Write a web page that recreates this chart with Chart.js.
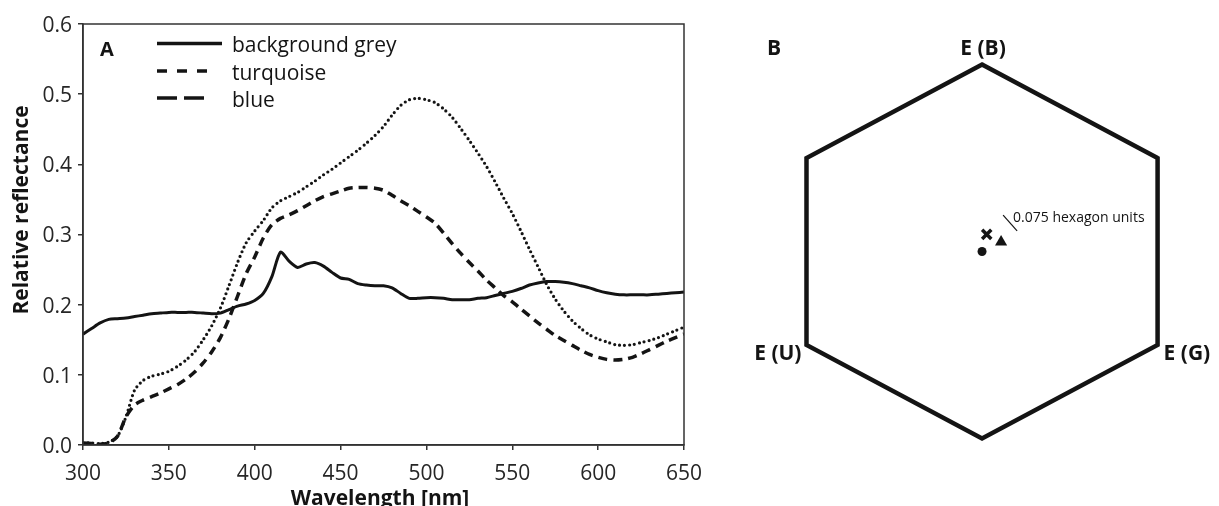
<!DOCTYPE html>
<html>
<head>
<meta charset="utf-8">
<script src="https://cdn.jsdelivr.net/npm/chart.js@4.4.1/dist/chart.umd.min.js"></script>
<style>
  body { margin: 0; background: #fff; }
  #wrap { position: relative; width: 1219px; height: 506px; overflow: hidden; }
  #spectra { position: absolute; left: 0; top: 0; width: 740px; height: 506px; }
  #hexagon { position: absolute; left: 740px; top: 0; width: 479px; height: 506px; }
</style>
</head>
<body>
<div id="wrap">
  <canvas id="spectra" width="740" height="506"></canvas>
  <canvas id="hexagon" width="479" height="506"></canvas>
</div>
<script>
// Panel A: reflectance spectra, one value every 5 nm
const wavelengths = [300, 305, 310, 315, 320, 325, 330, 335, 340, 345, 350, 355, 360, 365, 370, 375, 380, 385, 390, 395,
  400, 405, 410, 415, 420, 425, 430, 435, 440, 445, 450, 455, 460, 465, 470, 475, 480, 485, 490, 495,
  500, 505, 510, 515, 520, 525, 530, 535, 540, 545, 550, 555, 560, 565, 570, 575, 580, 585, 590, 595,
  600, 605, 610, 615, 620, 625, 630, 635, 640, 645, 650];
const greyValues = [0.158, 0.166, 0.174, 0.179, 0.180, 0.181, 0.183, 0.185, 0.187, 0.188, 0.189, 0.189, 0.189, 0.189, 0.188, 0.187, 0.188, 0.193, 0.198, 0.201,
  0.206, 0.216, 0.240, 0.275, 0.262, 0.253, 0.258, 0.260, 0.255, 0.246, 0.238, 0.236, 0.230, 0.228, 0.227, 0.227, 0.224, 0.216, 0.209, 0.209,
  0.210, 0.210, 0.209, 0.207, 0.207, 0.207, 0.209, 0.210, 0.213, 0.216, 0.219, 0.223, 0.228, 0.231, 0.233, 0.233, 0.232, 0.230, 0.227, 0.224,
  0.220, 0.217, 0.215, 0.214, 0.214, 0.214, 0.214, 0.215, 0.216, 0.217, 0.218];
const turquoiseValues = [0.003, 0.003, 0.002, 0.004, 0.012, 0.040, 0.078, 0.092, 0.098, 0.101, 0.105, 0.112, 0.121, 0.133, 0.150, 0.170, 0.195, 0.227, 0.260, 0.288,
  0.305, 0.320, 0.338, 0.348, 0.354, 0.360, 0.368, 0.376, 0.385, 0.393, 0.402, 0.411, 0.420, 0.430, 0.441, 0.454, 0.470, 0.484, 0.492, 0.494,
  0.492, 0.488, 0.479, 0.467, 0.451, 0.434, 0.416, 0.397, 0.375, 0.352, 0.330, 0.305, 0.279, 0.254, 0.229, 0.208, 0.191, 0.177, 0.166, 0.157,
  0.151, 0.147, 0.143, 0.142, 0.143, 0.146, 0.149, 0.153, 0.158, 0.163, 0.168];
const blueValues = [0.003, 0.002, 0.001, 0.003, 0.012, 0.040, 0.057, 0.064, 0.069, 0.074, 0.080, 0.086, 0.094, 0.104, 0.117, 0.133, 0.153, 0.180, 0.212, 0.244,
  0.268, 0.295, 0.314, 0.323, 0.328, 0.334, 0.341, 0.348, 0.354, 0.358, 0.362, 0.366, 0.367, 0.367, 0.366, 0.363, 0.356, 0.348, 0.341, 0.333,
  0.325, 0.316, 0.302, 0.287, 0.273, 0.260, 0.248, 0.235, 0.224, 0.213, 0.204, 0.194, 0.184, 0.174, 0.165, 0.156, 0.149, 0.142, 0.135, 0.129,
  0.125, 0.122, 0.121, 0.122, 0.125, 0.130, 0.136, 0.142, 0.148, 0.153, 0.158];
const seriesNames = ['background grey', 'turquoise', 'blue'];
const xTicks = [300, 350, 400, 450, 500, 550, 600, 650];
const yTicks = [0, 0.1, 0.2, 0.3, 0.4, 0.5, 0.6];

// Panel B: hexagon colour space (corners in hexagon units)
const hexX = [0, 0.866, 0.866, 0, -0.866, -0.866, 0, 0.866];
const hexY = [1, 0.5, -0.5, -1, -0.5, 0.5, 1, 0.5];
const cornerNames = ['E (B)', 'E (G)', 'E (U)'];
const stimulusX = [0, 0.023, 0.094];   // grey, turquoise, blue loci
const stimulusY = [0, 0.092, 0.051];
const scaleBarX = [0.104, 0.173];
const scaleBarY = [0.195, 0.110];
const scaleBarLabel = '0.075 hexagon units';

const ink = '#141414';
const face = "'Open Sans', sans-serif";

const toPoints = (xs, ys) => xs.map((x, i) => ({ x: x, y: ys[i] }));

// box, axis titles, panel letter and the hand-drawn legend
const legendDashes = [[], [10, 10], [20, 7]];
const legendEnds = [222, 209, 210];
const spectraDecor = {
  id: 'spectraDecor',
  afterDraw(chart) {
    const { ctx, chartArea: a } = chart;
    ctx.save();
    ctx.strokeStyle = '#333';
    ctx.lineWidth = 1.5;
    ctx.strokeRect(a.left, a.top, a.right - a.left, a.bottom - a.top);

    ctx.fillStyle = ink;
    ctx.font = `bold 21px ${face}`;
    ctx.textAlign = 'center';
    ctx.textBaseline = 'alphabetic';
    ctx.fillText('Wavelength [nm]', 380, 505);
    ctx.save();
    ctx.translate(28, 210);
    ctx.rotate(-Math.PI / 2);
    ctx.fillText('Relative reflectance', 0, 0);
    ctx.restore();

    ctx.textAlign = 'left';
    ctx.font = `bold 20px ${face}`;
    ctx.fillText('A', 100, 56);

    const rows = [43.5, 71, 98];
    ctx.font = `21px ${face}`;
    chart.data.datasets.forEach((ds, i) => {
      ctx.beginPath();
      ctx.setLineDash(legendDashes[i]);
      ctx.lineWidth = 3.5;
      ctx.lineCap = 'butt';
      ctx.strokeStyle = ink;
      ctx.moveTo(157, rows[i]);
      ctx.lineTo(legendEnds[i], rows[i]);
      ctx.stroke();
      ctx.setLineDash([]);
      ctx.fillText(ds.label, 232, rows[i] + 8.5);
    });
    ctx.restore();
  }
};

new Chart(document.getElementById('spectra'), {
  type: 'line',
  data: {
    datasets: [
      {
        label: seriesNames[0],
        data: toPoints(wavelengths, greyValues),
        borderColor: ink,
        borderWidth: 3,
        tension: 0.25
      },
      {
        label: seriesNames[1],
        data: toPoints(wavelengths, turquoiseValues),
        borderColor: ink,
        borderWidth: 3.2,
        borderDash: [0, 5],
        borderCapStyle: 'round',
        tension: 0.25
      },
      {
        label: seriesNames[2],
        data: toPoints(wavelengths, blueValues),
        borderColor: ink,
        borderWidth: 3.5,
        borderDash: [9, 6],
        tension: 0.25
      }
    ]
  },
  options: {
    responsive: false,
    animation: false,
    events: [],
    elements: { point: { radius: 0 } },
    layout: { padding: { top: 24, right: 56, left: 0, bottom: 0 } },
    plugins: { legend: { display: false }, tooltip: { enabled: false } },
    scales: {
      x: {
        type: 'linear',
        min: 300,
        max: 650,
        afterBuildTicks: s => { s.ticks = xTicks.map(v => ({ value: v })); },
        afterFit: s => { s.height = 61; },
        grid: { drawOnChartArea: false, drawTicks: true, tickLength: 5, color: '#333', lineWidth: 1.5 },
        border: { display: true, color: '#333', width: 1.5 },
        ticks: { color: '#262626', font: { family: face, size: 21 }, padding: 11, maxRotation: 0 }
      },
      y: {
        min: 0,
        max: 0.6,
        afterBuildTicks: s => { s.ticks = yTicks.map(v => ({ value: v })); },
        afterFit: s => { s.width = 83; },
        grid: { drawOnChartArea: false, drawTicks: true, tickLength: 5, color: '#333', lineWidth: 1.5 },
        border: { display: true, color: '#333', width: 1.5 },
        ticks: { color: '#262626', font: { family: face, size: 21 }, padding: 6, labelOffset: 2, callback: v => v.toFixed(1) }
      }
    }
  },
  plugins: [spectraDecor]
});

// corner names, panel letter and scale-bar caption
const hexDecor = {
  id: 'hexDecor',
  afterDraw(chart) {
    const { ctx, scales: { x, y } } = chart;
    ctx.save();
    ctx.fillStyle = ink;
    ctx.textBaseline = 'alphabetic';
    ctx.font = `bold 21px ${face}`;
    ctx.textAlign = 'left';
    ctx.fillText('B', 27, 55);

    ctx.textAlign = 'center';
    ctx.fillText(cornerNames[0], x.getPixelForValue(hexX[0]) + 1, y.getPixelForValue(hexY[0]) - 10);
    ctx.textAlign = 'left';
    ctx.fillText(cornerNames[1], x.getPixelForValue(hexX[2]) + 6, y.getPixelForValue(hexY[2]) + 15);
    ctx.textAlign = 'right';
    ctx.fillText(cornerNames[2], x.getPixelForValue(hexX[4]) - 5, y.getPixelForValue(hexY[4]) + 15);

    ctx.textAlign = 'left';
    ctx.font = `14px ${face}`;
    ctx.fillText(scaleBarLabel, x.getPixelForValue(0.153), y.getPixelForValue(0.158));
    ctx.restore();
  }
};

new Chart(document.getElementById('hexagon'), {
  type: 'scatter',
  data: {
    datasets: [
      {
        type: 'line',
        data: toPoints(hexX, hexY),
        borderColor: ink,
        borderWidth: 4.5,
        borderJoinStyle: 'miter',
        pointRadius: 0,
        tension: 0
      },
      {
        type: 'line',
        data: toPoints(scaleBarX, scaleBarY),
        borderColor: ink,
        borderWidth: 1.2,
        pointRadius: 0
      },
      {
        label: seriesNames[0],
        data: [{ x: stimulusX[0], y: stimulusY[0] }],
        pointStyle: 'circle',
        pointRadius: 4.5,
        borderWidth: 0,
        backgroundColor: ink,
        borderColor: ink
      },
      {
        label: seriesNames[1],
        data: [{ x: stimulusX[1], y: stimulusY[1] }],
        pointStyle: 'crossRot',
        pointRadius: 6.5,
        borderWidth: 3.5,
        backgroundColor: ink,
        borderColor: ink
      },
      {
        label: seriesNames[2],
        data: [{ x: stimulusX[2], y: stimulusY[2] }],
        pointStyle: 'triangle',
        pointRadius: 7,
        borderWidth: 0,
        backgroundColor: ink,
        borderColor: ink
      }
    ]
  },
  options: {
    responsive: false,
    animation: false,
    events: [],
    layout: { padding: 0, autoPadding: false },
    plugins: { legend: { display: false }, tooltip: { enabled: false } },
    scales: {
      x: { type: 'linear', display: false, min: -1.194, max: 1.169 },
      y: { type: 'linear', display: false, min: -1.361, max: 1.345 }
    }
  },
  plugins: [hexDecor]
});
</script>
</body>
</html>
